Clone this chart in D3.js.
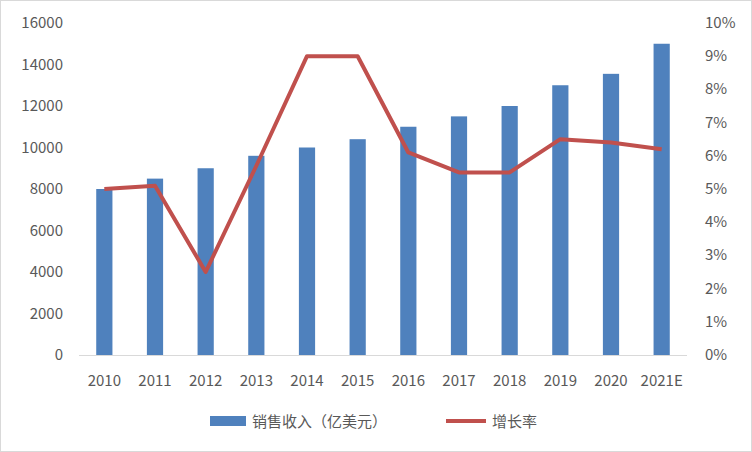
<!DOCTYPE html>
<html><head><meta charset="utf-8">
<script src="https://cdn.jsdelivr.net/npm/d3@7"></script>
<style>body{margin:0;background:#fff}text{font-family:"Noto Sans CJK SC","Liberation Sans",sans-serif}</style>
</head><body><svg id="c" width="752" height="452"></svg>
<script>
const categories=["2010","2011","2012","2013","2014","2015","2016","2017","2018","2019","2020","2021E"];
const revenue=[8000,8500,9000,9600,10000,10400,11000,11500,12000,13000,13550,15000];
const growth=[0.050,0.051,0.025,0.057,0.090,0.090,0.061,0.055,0.055,0.065,0.064,0.062];
const leftTicks=[0,2000,4000,6000,8000,10000,12000,14000,16000];
const rightTicks=[0,0.01,0.02,0.03,0.04,0.05,0.06,0.07,0.08,0.09,0.10];
const svg=d3.select("#c");
svg.append("rect").attr("x",0.5).attr("y",0.5).attr("width",751).attr("height",451).attr("fill","#fff").attr("stroke","#d9d9d9");
const x=d3.scaleBand().domain(categories).range([79,687]).paddingInner(0.68).paddingOuter(0.34);
const yL=d3.scaleLinear().domain([0,16000]).range([355,23]);
const yR=d3.scaleLinear().domain([0,0.10]).range([355,23]);
svg.append("line").attr("x1",79).attr("x2",687).attr("y1",355.5).attr("y2",355.5).attr("stroke","#d9d9d9");
svg.selectAll(".b").data(revenue).join("rect").attr("x",(d,i)=>x(categories[i])).attr("width",x.bandwidth())
 .attr("y",d=>yL(d)).attr("height",d=>355-yL(d)).attr("fill","#4f81bd");
svg.append("path").datum(growth).attr("fill","none").attr("stroke","#c0504d").attr("stroke-width",4).attr("stroke-linejoin","round")
 .attr("d",d3.line().x((d,i)=>x(categories[i])+x.bandwidth()/2).y(d=>yR(d)));
const fs=15;
svg.selectAll(".lt").data(leftTicks).join("text").attr("x",63).attr("y",d=>yL(d)+5).attr("text-anchor","end").attr("font-size",fs).attr("fill","#595959").text(d=>d);
svg.selectAll(".rt").data(rightTicks).join("text").attr("x",705).attr("y",d=>yR(d)+5).attr("font-size",fs).attr("fill","#595959").text(d=>d3.format(".0%")(d));
svg.selectAll(".xt").data(categories).join("text").attr("x",d=>x(d)+x.bandwidth()/2).attr("y",386).attr("text-anchor","middle").attr("font-size",fs).attr("fill","#595959").text(d=>d);
const lg=svg.append("g");
lg.append("rect").attr("x",210).attr("y",416).attr("width",36).attr("height",10).attr("fill","#4f81bd");
lg.append("text").attr("x",252).attr("y",427).attr("font-size",fs).attr("fill","#595959").text("销售收入（亿美元）");
lg.append("line").attr("x1",446).attr("x2",486).attr("y1",421).attr("y2",421).attr("stroke","#c0504d").attr("stroke-width",4);
lg.append("text").attr("x",492).attr("y",427).attr("font-size",fs).attr("fill","#595959").text("增长率");
</script></body></html>
